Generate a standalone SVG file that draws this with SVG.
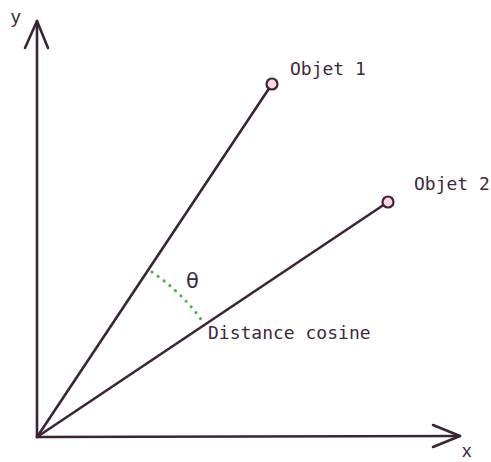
<svg xmlns="http://www.w3.org/2000/svg" width="491" height="462" viewBox="0 0 491 462">
<style>
.ax{stroke:#3b2438;stroke-width:2.6;fill:none;stroke-linecap:round;stroke-linejoin:round}
.vec{stroke:#3b2438;stroke-width:2.6;fill:none;stroke-linecap:round}
.pt{fill:#ffd3e0;stroke:#3b2438;stroke-width:2.2}
.lbl{font-family:"DejaVu Sans Mono","Liberation Mono",monospace;font-size:18px;fill:#3d2a3d}
.axl{font-family:"Liberation Sans","DejaVu Sans",sans-serif;font-size:19px;fill:#3d2a3d}
.th{font-family:"DejaVu Sans",sans-serif;font-size:21px;fill:#3d2a3d}
.arc{stroke:#4caf50;stroke-width:3.2;fill:none;stroke-linecap:round;stroke-dasharray:0 7.5}
</style>
<rect width="491" height="462" fill="#ffffff"/>
<g id="connectors">
<path class="ax" d="M37,437 L37,21"/>
<path class="ax" d="M25,48 L37,21 L48,48"/>
<path class="ax" d="M37,437 L460,436"/>
<path class="ax" d="M433,425 L460,436 L433,447"/>
<path class="vec" d="M37,437 L272,84"/>
<path class="vec" d="M37,437 L388,202"/>
<path class="arc" d="M152,272 A201,201 0 0 1 203,322"/>
</g>
<g id="axis-y"><text class="axl" x="11" y="23">y</text></g>
<g id="axis-x"><text class="axl" x="462" y="457">x</text></g>
<g id="objet1">
<circle class="pt" cx="272" cy="84" r="5.5"/>
<text class="lbl" x="290" y="75">Objet 1</text>
</g>
<g id="objet2">
<circle class="pt" cx="388" cy="202" r="5.5"/>
<text class="lbl" x="414" y="190">Objet 2</text>
</g>
<g id="theta"><text class="th" x="186" y="288">θ</text></g>
<g id="distance"><text class="lbl" x="208" y="339">Distance cosine</text></g>
</svg>
